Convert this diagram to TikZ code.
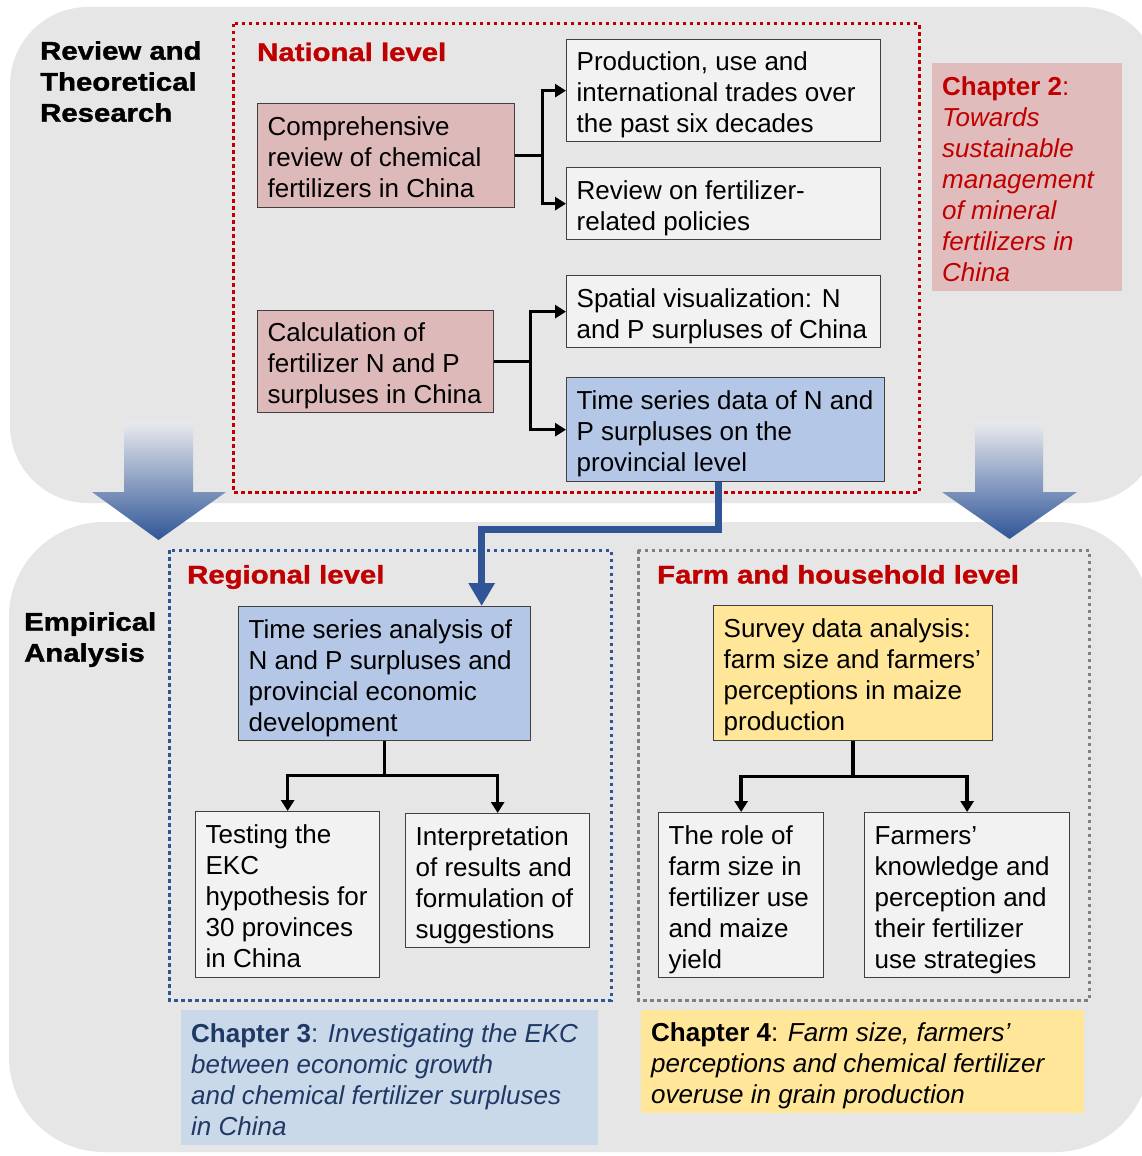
\documentclass[tikz,border=0pt]{standalone}
\usepackage{fontspec}
\setmainfont{Liberation Sans}
\newfontfamily\blackfont[FakeStretch=1.15,FakeBold=1.4]{Liberation Sans}
\usetikzlibrary{arrows.meta,calc}
\definecolor{bggray}{RGB}{230,230,230}
\definecolor{pinkc}{RGB}{222,185,185}
\definecolor{chpink}{RGB}{224,188,188}
\definecolor{lightc}{RGB}{242,242,242}
\definecolor{bluec}{RGB}{180,199,231}
\definecolor{ch3c}{RGB}{201,217,234}
\definecolor{yellowc}{RGB}{255,230,153}
\definecolor{redc}{RGB}{192,0,0}
\definecolor{dblue}{RGB}{47,85,151}
\definecolor{navytext}{RGB}{31,56,100}
\definecolor{dotgray}{RGB}{128,128,128}
\definecolor{boxline}{RGB}{64,64,64}
\definecolor{arrtop}{RGB}{232,233,238}
\newcommand\bxt[2]{\raisebox{-5pt}[\height][\depth]{\makebox[#1][l]{\begin{tabular}{@{}l@{}}#2\end{tabular}}}}
\tikzset{
 box/.style 2 args={draw=boxline, line width=1.3pt, anchor=north west, inner xsep=10pt, inner ysep=0pt, minimum width=#1, minimum height=#2, font=\fontsize{26}{31}\selectfont},
 chbox/.style 2 args={anchor=north west, inner xsep=10pt, inner ysep=0pt, minimum width=#1, minimum height=#2, font=\fontsize{26}{31}\selectfont},
 lbl/.style={inner sep=0pt, anchor=north west, font=\blackfont\bfseries\fontsize{25.5}{31}\selectfont},
 lvl/.style={inner sep=0pt, text=redc, anchor=base west, font=\blackfont\bfseries\fontsize{25.5}{31}\selectfont},
 conn/.style={line width=3.5pt, -{Triangle[length=11pt,width=13pt]}},
 bconn/.style={draw=dblue, line width=7pt, -{Triangle[length=23pt,width=25pt]}},
 dotbox/.style={line width=3pt, dash pattern=on 3.5pt off 3.5pt},
 bigarrow/.style={top color=arrtop, bottom color=dblue},
}
\begin{document}
\begin{tikzpicture}[x=1pt,y=-1pt]
\useasboundingbox (0,0) rectangle (1142,1156);
\fill[white] (0,0) rectangle (1142,1156);
\begin{scope}
\clip (0,0) rectangle (1142,1156);
% backgrounds
\fill[bggray, rounded corners=78pt] (10,7) rectangle (1160,503);
\fill[bggray, rounded corners=95pt] (9,522) rectangle (1150,1152);
\end{scope}
% big gradient arrows
\shade[bigarrow] (124,423) -- (193,423) -- (193,492) -- (226,492) -- (158.5,540) -- (92,492) -- (124,492) -- cycle;
\shade[bigarrow] (975,423) -- (1043,423) -- (1043,492) -- (1077,492) -- (1009.5,539) -- (942,492) -- (975,492) -- cycle;
% dotted frames
\draw[dotbox, draw=redc] (233,24) rectangle (919,492);
\draw[dotbox, draw=dblue] (169,550) rectangle (611,1000);
\draw[dotbox, draw=dotgray] (638,550) rectangle (1089,1000);
% side labels
\node[lbl] (rtr) at (40,37.8) {\begin{tabular}{@{}l@{}}Review and\\Theoretical\\Research\end{tabular}};
\node[lbl] (emp) at (24,608.8) {\begin{tabular}{@{}l@{}}Empirical\\Analysis\end{tabular}};
\node[lvl] (nat) at (257,61) {National level};
\node[lvl] (reg) at (187,583.5) {Regional level};
\node[lvl] (farm) at (657,583.5) {Farm and household level};
% national level boxes
\node[box={257pt}{104pt}, fill=pinkc] (comp) at (257,103) {\bxt{237pt}{Comprehensive\\review of chemical\\fertilizers in China}};
\node[box={314pt}{102pt}, fill=lightc] (prod) at (566,39) {\bxt{294pt}{Production, use and\\international trades over\\the past six decades}};
\node[box={314pt}{72pt}, fill=lightc] (rev) at (566,167) {\bxt{294pt}{Review on fertilizer-\\related policies}};
\node[box={236pt}{102pt}, fill=pinkc] (calc) at (257,310) {\bxt{216pt}{Calculation of\\fertilizer N and P\\surpluses in China}};
\node[box={314pt}{72pt}, fill=lightc] (spat) at (566,275) {\bxt{294pt}{Spatial visualization: N\\and P surpluses of China}};
\node[box={318pt}{104pt}, fill=bluec] (ts) at (566,377) {\bxt{298pt}{Time series data of N and\\P surpluses on the\\provincial level}};
% chapter 2
\node[chbox={190pt}{228pt}, fill=chpink, text=redc] (ch2) at (932,63) {\bxt{170pt}{\textbf{Chapter 2}:\\\textit{Towards}\\\textit{sustainable}\\\textit{management}\\\textit{of mineral}\\\textit{fertilizers in}\\\textit{China}}};
% regional level
\node[box={292pt}{134pt}, fill=bluec] (tsa) at (238,606) {\bxt{272pt}{Time series analysis of\\N and P surpluses and\\provincial economic\\development}};
\node[box={184pt}{166pt}, fill=lightc] (test) at (195,811) {\bxt{164pt}{Testing the\\EKC\\hypothesis for\\30 provinces\\in China}};
\node[box={184pt}{134pt}, fill=lightc] (interp) at (405,813) {\bxt{164pt}{Interpretation\\of results and\\formulation of\\suggestions}};
% farm level
\node[box={279pt}{135pt}, fill=yellowc] (surv) at (713,605) {\bxt{259pt}{Survey data analysis:\\farm size and farmers’\\perceptions in maize\\production}};
\node[box={165pt}{165pt}, fill=lightc] (role) at (658,812) {\bxt{145pt}{The role of\\farm size in\\fertilizer use\\and maize\\yield}};
\node[box={205pt}{165pt}, fill=lightc] (frm) at (864,812) {\bxt{185pt}{Farmers’\\knowledge and\\perception and\\their fertilizer\\use strategies}};
% chapters 3 and 4
\node[chbox={417pt}{135pt}, fill=ch3c, text=navytext] (ch3) at (181,1010) {\bxt{397pt}{\textbf{Chapter 3}: \textit{Investigating the EKC}\\\textit{between economic growth}\\\textit{and chemical fertilizer surpluses}\\\textit{in China}}};
\node[chbox={443pt}{103pt}, fill=yellowc] (ch4) at (641,1010) {\bxt{423pt}{\textbf{Chapter 4}: \textit{Farm size, farmers’}\\\textit{perceptions and chemical fertilizer}\\\textit{overuse in grain production}}};
% connectors
\draw[conn] (comp.east) -- ++(27,0) coordinate (j1) |- (prod.west);
\draw[conn] (j1) |- (rev.west);
\draw[conn] (calc.east) -- ++(36,0) coordinate (j2) |- (spat.west);
\draw[conn] (j2) |- (ts.west);
\draw[conn] (tsa.south) -- ++(0,34) coordinate (j3) -| (test.north);
\draw[conn] (j3) -| (interp.north);
\draw[conn] (surv.south) -- ++(0,35) coordinate (j4) -| (role.north);
\draw[conn] (j4) -| (frm.north);
\draw[bconn] ([xshift=-7pt]ts.south) -- ++(0,47) -| ([xshift=97pt]tsa.north);
\end{tikzpicture}
\end{document}
